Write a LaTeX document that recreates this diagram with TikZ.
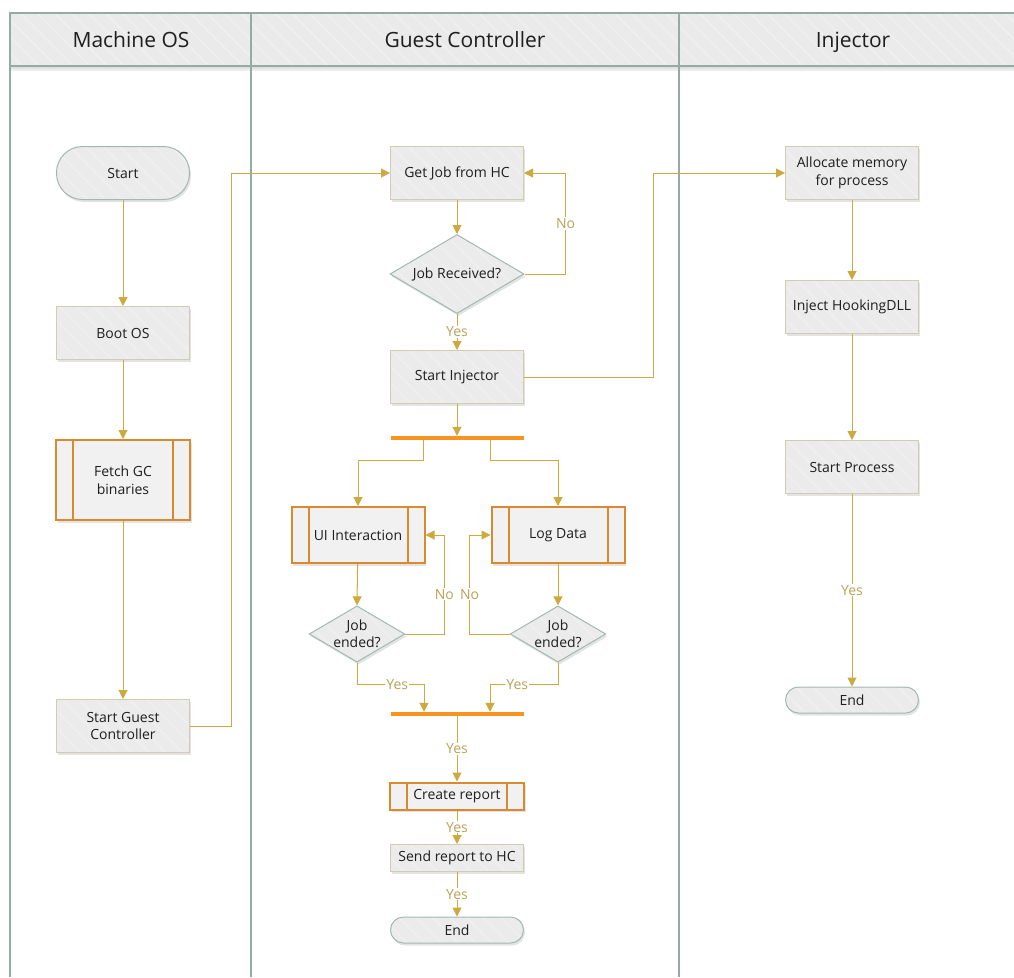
\documentclass[tikz,border=0pt]{standalone}
\usepackage{fontspec}
\setmainfont{Open Sans}
\usetikzlibrary{arrows.meta,shapes.geometric,shadows,patterns.meta}

\definecolor{laneline}{HTML}{93ABA1}
\definecolor{headfill}{HTML}{EAEAEA}
\definecolor{stripe}{HTML}{EFEFEF}
\definecolor{nodefill}{HTML}{EBEBEB}
\definecolor{subfill}{HTML}{F1F1F1}
\definecolor{procline}{HTML}{D3CCB3}
\definecolor{termline}{HTML}{A3B8AF}
\definecolor{subline}{HTML}{D98A2E}
\definecolor{barcol}{HTML}{F7931E}
\definecolor{flowcol}{HTML}{CDA93E}
\definecolor{lblcol}{HTML}{B9A257}
\definecolor{ink}{HTML}{1E1E1E}

\newcommand\nodefont{\fontsize{14}{17.5}\selectfont}
\newcommand\headfont{\fontsize{21}{25}\selectfont}

\tikzset{
  hatched/.style={
    drop shadow={shadow xshift=1.5pt,shadow yshift=-2.5pt,opacity=0.22},
    preaction={fill=#1},
    pattern={Lines[angle=-45,distance=12pt,line width=2pt]},
    pattern color=stripe},
  base/.style={font=\nodefont, text=ink, align=center, inner sep=0pt},
  proc/.style={base, rectangle, minimum width=133pt, minimum height=53pt,
    draw=procline, line width=1pt, hatched=nodefill},
  term/.style={base, rectangle, rounded corners=26pt, minimum width=133pt,
    minimum height=53pt, draw=termline, line width=1pt, hatched=nodefill},
  termsmall/.style={term, rounded corners=13pt, minimum height=26pt},
  procsmall/.style={proc, minimum height=27pt},
  sub/.style={base, rectangle, minimum width=134pt, minimum height=80pt,
    draw=subline, line width=2pt, fill=subfill,
    drop shadow={shadow xshift=1.5pt,shadow yshift=-2.5pt,opacity=0.22},
    path picture={
      \draw[subline, line width=2pt]
        ([xshift=17pt]path picture bounding box.north west) --
        ([xshift=17pt]path picture bounding box.south west)
        ([xshift=-17pt]path picture bounding box.north east) --
        ([xshift=-17pt]path picture bounding box.south east);}},
  dec/.style={base, diamond, aspect=1.7, minimum width=134pt,
    minimum height=79pt, draw=termline, line width=1pt, hatched=nodefill},
  decsmall/.style={dec, minimum width=95pt, minimum height=56pt},
  bar/.style={rectangle, minimum width=133pt, minimum height=4pt,
    inner sep=0pt, fill=barcol},
  flow/.style={draw=flowcol, line width=1pt,
    -{Triangle[length=9pt,width=9pt]}},
  lbl/.style={font=\nodefont, text=lblcol, fill=white, inner sep=1pt},
  lane/.style={draw=laneline, line width=1.3pt},
  title/.style={font=\headfont, text=ink, anchor=base}
}

\begin{document}
\begin{tikzpicture}[x=1pt,y=-1pt]
\useasboundingbox (0,0) rectangle (1014,977);

% pool header band
\fill[headfill] (10,13) rectangle (1014,66);
\fill[pattern={Lines[angle=-45,distance=12pt,line width=2pt]},
      pattern color=stripe] (10,13) rectangle (1014,66);
\fill[black, opacity=0.07] (10,66) rectangle (1014,71);
\fill[black, opacity=0.05] (10,66) rectangle (1014,69);

% lane borders
\draw[lane] (10,977) -- (10,13) -- (1014,13);
\draw[lane] (10,66) -- (1014,66);
\draw[lane] (251,13) -- (251,977);
\draw[lane] (679,13) -- (679,977);

\node[title] (t1) at (131,47) {Machine OS};
\node[title] (t2) at (465,47) {Guest Controller};
\node[title] (t3) at (853,47) {Injector};

% Machine OS lane
\node[term] (start) at (123,173) {Start};
\node[proc] (boot) at (123,333) {Boot OS};
\node[sub] (fetch) at (123,480) {Fetch GC\\binaries};
\node[proc] (sgc) at (123,726) {Start Guest\\Controller};

% Guest Controller lane
\node[proc] (gj) at (457,173) {Get Job from HC};
\node[dec] (jr) at (457,274) {Job Received?};
\node[proc] (si) at (457,377) {Start Injector};
\node[bar] (b1) at (457,438) {};
\node[sub, minimum width=133pt, minimum height=56pt] (ui) at (358,535) {UI Interaction};
\node[sub, minimum width=133pt, minimum height=56pt] (ld) at (558,535) {Log Data};
\node[decsmall] (je1) at (357,634) {Job\\ended?};
\node[decsmall] (je2) at (558,634) {Job\\ended?};
\node[bar] (b2) at (457,714) {};
\node[sub, minimum height=27pt] (cr) at (457,796) {Create report};
\node[procsmall] (sr) at (457,858) {Send report to HC};
\node[termsmall] (end1) at (457,930) {End};

% Injector lane
\node[proc] (al) at (852,173) {Allocate memory\\for process};
\node[proc] (inj) at (852,307) {Inject HookingDLL};
\node[proc] (sp) at (852,467) {Start Process};
\node[termsmall] (end2) at (852,700) {End};

% connectors
\draw[flow] (start) -- (boot);
\draw[flow] (boot) -- (fetch);
\draw[flow] (fetch) -- (sgc);
\draw[flow] (sgc.east) -- ++(41,0) |- (gj.west);

\draw[flow] (gj) -- (jr);
\draw[flow] (jr.east) -- ++(41,0) |- node[lbl, pos=0.25] {No} (gj.east);
\draw[flow] (jr.south) -- node[lbl] {Yes} (si.north);
\draw[flow] (si.east) -- ++(129,0) |- (al.west);
\draw[flow] (si) -- (b1.north);

\draw[flow] ([xshift=-34pt]b1.south) -- ++(0,20) -| (ui.north);
\draw[flow] ([xshift=33pt]b1.south) -- ++(0,20) -| (ld.north);
\draw[flow] (ui) -- (je1.north);
\draw[flow] (ld) -- (je2.north);
\draw[flow] (je1.east) -- ++(39,0) |- node[lbl, pos=0.2] {No} (ui.east);
\draw[flow] (je2.west) -- ++(-40,0) |- node[lbl, pos=0.2] {No} (ld.west);
\draw[flow] (je1.south) -- ++(0,22) -| node[lbl, pos=0.3] {Yes} ([xshift=-33pt]b2.north);
\draw[flow] (je2.south) -- ++(0,22) -| node[lbl, pos=0.3] {Yes} ([xshift=33pt]b2.north);

\draw[flow] (b2.south) -- node[lbl] {Yes} (cr.north);
\draw[flow] (cr) -- node[lbl] {Yes} (sr);
\draw[flow] (sr) -- node[lbl] {Yes} (end1);

\draw[flow] (al) -- (inj);
\draw[flow] (inj) -- (sp);
\draw[flow] (sp) -- node[lbl] {Yes} (end2);
\end{tikzpicture}
\end{document}
